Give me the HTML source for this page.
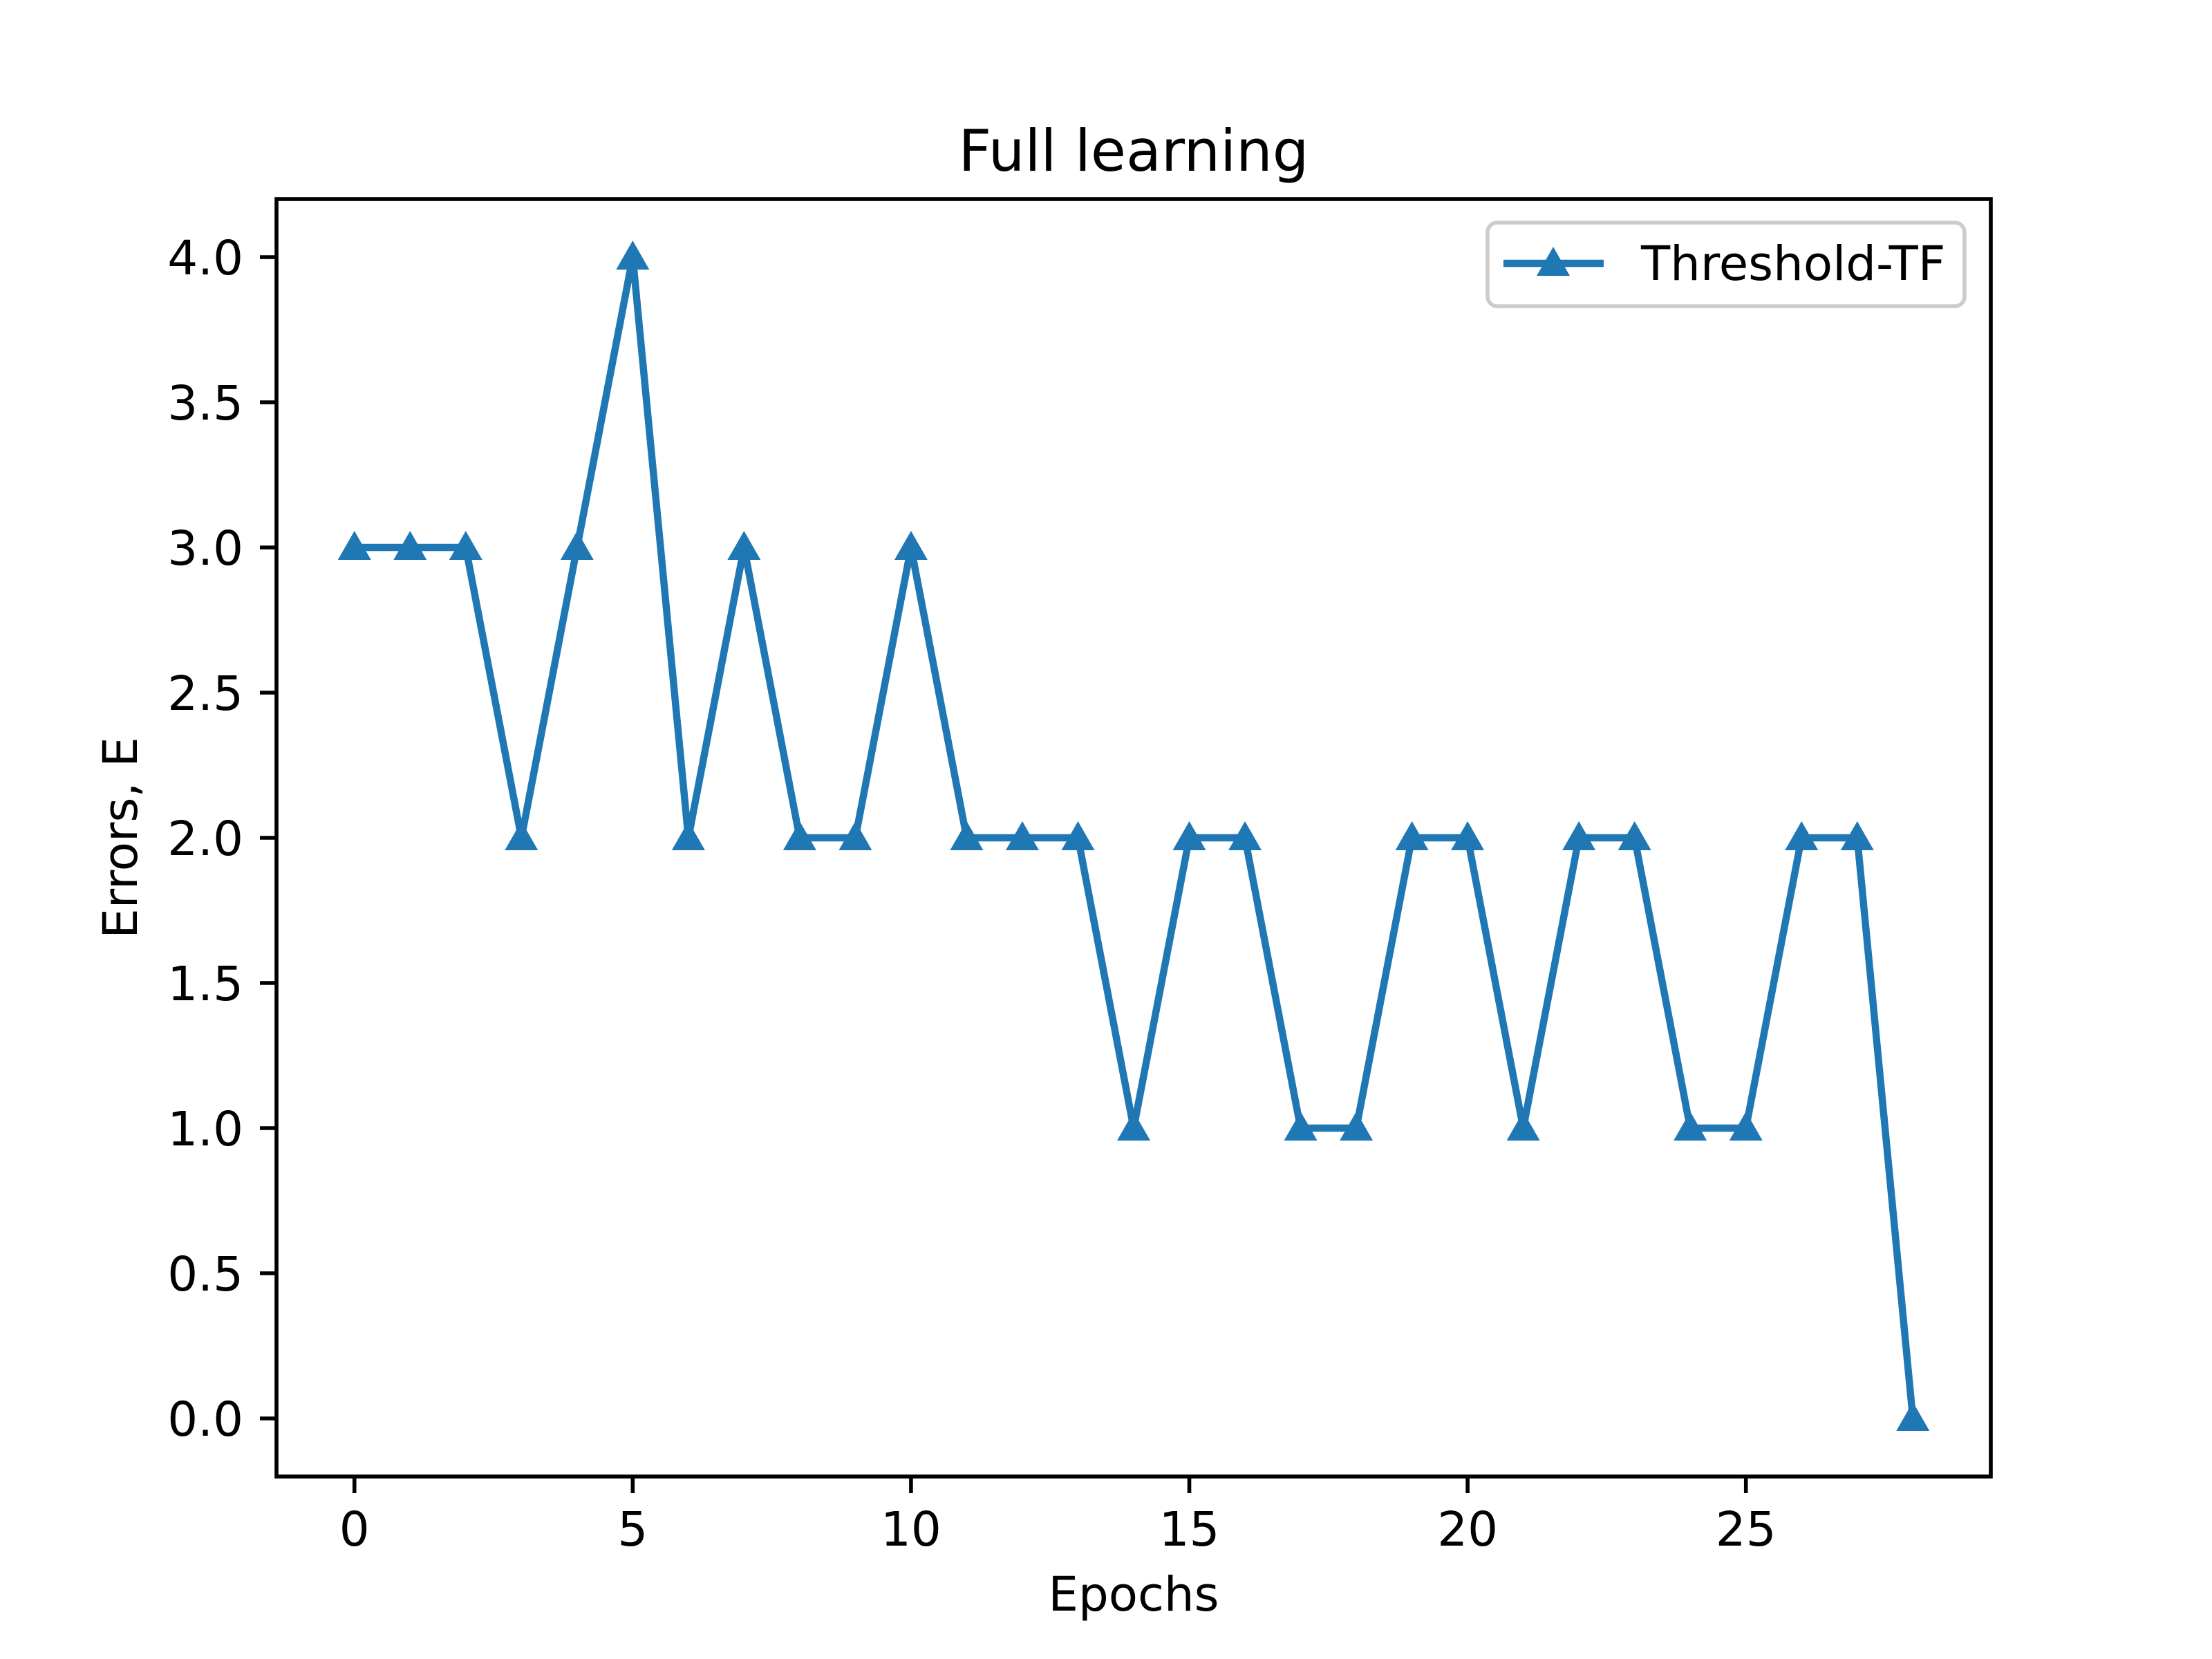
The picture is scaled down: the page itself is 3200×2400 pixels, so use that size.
<!DOCTYPE html>
<html><head><meta charset="utf-8"><style>
html,body{margin:0;padding:0;background:#fff;}
svg{display:block;font-family:"DejaVu Sans","Liberation Sans",sans-serif;}
</style></head><body>
<svg id="chart" width="3200" height="2400" viewBox="0 0 3200 2400" xmlns="http://www.w3.org/2000/svg">
<rect width="3200" height="2400" fill="#fff"/>
<text x="1640" y="247" font-size="83" text-anchor="middle" fill="#000">Full learning</text>
<g id="xticks"></g>
<g id="yticks"></g>
<g id="series"></g>
<rect x="400" y="288" width="2480" height="1848" fill="none" stroke="#000" stroke-width="5.6"/>
<text x="1640" y="2330" font-size="69" text-anchor="middle">Epochs</text>
<text transform="translate(198,1212) rotate(-90)" font-size="69" text-anchor="middle">Errors, E</text>
<g>
<rect x="2152" y="322" width="690" height="121" rx="14" fill="#fff" stroke="#ccc" stroke-width="5.6"/>
<line x1="2175" y1="381" x2="2320" y2="381" stroke="#1f77b4" stroke-width="10.4"/>
<polygon points="2247,357 2271,399 2223,399" fill="#1f77b4"/>
<text x="2374" y="405" font-size="69">Threshold-TF</text>
</g>
</svg>
<script>
const epochs=[0,1,2,3,4,5,6,7,8,9,10,11,12,13,14,15,16,17,18,19,20,21,22,23,24,25,26,27,28];
const errors=[3,3,3,2,3,4,2,3,2,2,3,2,2,2,1,2,2,1,1,2,2,1,2,2,1,1,2,2,0];
const xTickValues=[0,5,10,15,20,25];
const yTickValues=[0,0.5,1,1.5,2,2.5,3,3.5,4];
const yTickLabels=["0.0","0.5","1.0","1.5","2.0","2.5","3.0","3.5","4.0"];
const L=400,R=2880,T=288,B=2136;
const xMin=-1.4,xMax=29.4,yMin=-0.2,yMax=4.2;
const xs=v=>L+(v-xMin)/(xMax-xMin)*(R-L);
const ys=v=>B-(v-yMin)/(yMax-yMin)*(B-T);
const NS="http://www.w3.org/2000/svg";
function mk(tag,attrs,parent){const e=document.createElementNS(NS,tag);for(const k in attrs)e.setAttribute(k,attrs[k]);parent.appendChild(e);return e;}
const xg=document.getElementById('xticks'),yg=document.getElementById('yticks'),sg=document.getElementById('series');
xTickValues.forEach(v=>{
 const l=mk('line',{x1:xs(v),x2:xs(v),y1:B,y2:B+24,stroke:'#000','stroke-width':5.6},xg);
 
 
 const t=mk('text',{x:xs(v),y:2236,'font-size':69,'text-anchor':'middle'},xg);t.textContent=String(v);
 
 
});
yTickValues.forEach((v,i)=>{
 const l=mk('line',{x1:L-24,x2:L,y1:ys(v),y2:ys(v),stroke:'#000','stroke-width':5.6},yg);
 
 
 const t=mk('text',{x:352,y:ys(v)+25,'font-size':69,'text-anchor':'end'},yg);t.textContent=yTickLabels[i];
 
 
});
const pts=epochs.map((e,i)=>xs(e)+','+ys(errors[i])).join(' ');
const pl=mk('polyline',{points:pts,fill:'none',stroke:'#1f77b4','stroke-width':10.4,'stroke-linejoin':'round'},sg);


epochs.forEach((e,i)=>{
 const x=xs(e),y=ys(errors[i]);
 const p=mk('polygon',{points:`${x},${y-24} ${x+24},${y+18} ${x-24},${y+18}`,fill:'#1f77b4'},sg);
 
 
});
</script>
</body></html>
